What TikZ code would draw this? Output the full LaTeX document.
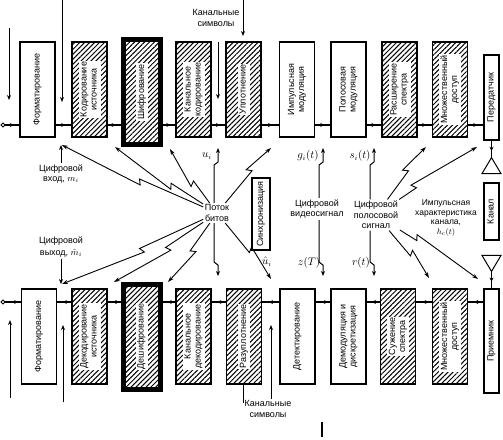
\documentclass[tikz,border=0pt]{standalone}
\usepackage{fontspec}
\setmainfont{Liberation Sans}
\usepackage{tikz}
\usetikzlibrary{calc}
\usetikzlibrary{arrows.meta}
\usetikzlibrary{patterns.meta}
\usetikzlibrary{decorations.markings}

\newcommand\vlab[1]{\rotatebox{90}{\setlength\fboxsep{1pt}\colorbox{white}{\begin{tabular}{@{}c@{}}#1\end{tabular}}}}

\begin{document}
\begin{tikzpicture}[x=1pt,y=-1pt,
  blk/.style={draw,line width=1.2pt,minimum width=35pt,minimum height=95pt,inner sep=0pt,font=\fontsize{9}{10}\selectfont},
  hblk/.style={blk,pattern={Lines[angle=45,distance=3.5pt,line width=1pt]}},
  keybox/.style={hblk,line width=5pt,minimum width=37pt,minimum height=105pt},
  lab/.style={align=center,inner sep=1.5pt,font=\fontsize{9}{10.5}\selectfont},
  sig/.style={inner sep=1pt,font=\fontsize{10.5}{12}\selectfont},
  flow/.style={line width=1.2pt,postaction={decorate},decoration={markings,mark=at position 0.6 with {\arrow{Stealth[length=4pt,width=4pt]}}}},
  arr/.style={line width=1pt,-{Stealth[length=5pt,width=4pt]}},
  zap/.style={line width=0.9pt,-{Stealth[length=6pt,width=4pt]}}]

\useasboundingbox (0,0) rectangle (503,439);

\node[blk] (fmt) at (37.5,89.5) {\vlab{Форматирование}};
\node[hblk] (src) at (89.5,89.5) {\vlab{Кодирование\\источника}};
\node[keybox] (enc) at (142,92) {\vlab{Шифрование}};
\node[hblk] (chc) at (193.5,89.5) {\vlab{Канальное\\кодирование}};
\node[hblk] (mux) at (243.5,89.5) {\vlab{Уплотнение}};
\node[blk] (pmod) at (297,89.5) {\vlab{Импульсная\\модуляция}};
\node[blk] (bmod) at (348.5,89.5) {\vlab{Полосовая\\модуляция}};
\node[hblk] (spr) at (399.5,89.5) {\vlab{Расширение\\спектра}};
\node[hblk] (ma) at (450,89.5) {\vlab{Множественный\\доступ}};
\node[blk,minimum width=15pt,minimum height=85pt] (tx) at (491.5,97.5) {\vlab{Передатчик}};

\node[blk] (fmt2) at (39,336.5) {\vlab{Форматирование}};
\node[hblk] (sdec) at (89.5,336.5) {\vlab{Декодирование\\источника}};
\node[keybox] (dec) at (141.5,336.5) {\vlab{Дешифрование}};
\node[hblk] (cdec) at (193.5,336.5) {\vlab{Канальное\\декодирование}};
\node[hblk] (dmux) at (244,336.5) {\vlab{Разуплотнение}};
\node[blk] (det) at (297.5,336.5) {\vlab{Детектирование}};
\node[blk] (dmod) at (348.5,336.5) {\vlab{Демодуляция и\\дискретизация}};
\node[hblk] (dspr) at (398,336.5) {\vlab{Сужение\\спектра}};
\node[hblk] (ma2) at (450,336.5) {\vlab{Множественный\\доступ}};
\node[blk,minimum width=15pt,minimum height=104pt] (rx) at (491.5,341) {\vlab{Приемник}};

\node[blk,minimum width=15pt,minimum height=57pt] (chan) at (491.5,211.5) {\vlab{Канал}};
\node[blk,minimum width=18pt,minimum height=72pt] (sync) at (261,214) {\vlab{Синхронизация}};

\node[lab] (chsym) at (216,18) {Канальные\\символы};
\node[lab] (chsym2) at (268,409) {Канальные\\символы};
\node[lab] (bits) at (217,213) {Поток\\битов};
\node[lab] (inp) at (61,174) {Цифровой\\вход, $m_i$};
\node[lab] (outp) at (61,247) {Цифровой\\[1pt]выход, $\hat{m}_i$};
\node[lab] (vid) at (317,209) {Цифровой\\видеосигнал};
\node[lab] (band) at (376,215) {Цифровой\\полосовой\\сигнал};
\node[lab,font=\fontsize{8.5}{9.5}\selectfont] (imp) at (446,218) {Импульсная\\характеристика\\канала,\\$h_c(t)$};
\node[sig] (uil) at (207,156) {$u_i$};
\node[sig] (uhl) at (267,262) {$\hat{u}_i$};
\node[sig] (gl) at (308,156) {$g_i(t)$};
\node[sig] (sl) at (360,156) {$s_i(t)$};
\node[sig] (zl) at (309,263) {$z(T)$};
\node[sig] (rl) at (361,263) {$r(t)$};

\coordinate (txl) at (0,125);
\coordinate (rxl) at (0,302);

\node[draw,circle,line width=0.8pt,inner sep=1.4pt] (in) at (3,125) {};
\node[draw,circle,line width=0.8pt,inner sep=1.4pt] (out) at (3,302) {};
\draw[flow] (in) -- (fmt.west |- txl);
\draw[flow] (fmt2.west |- rxl) -- (out);

\foreach \a/\b in {fmt/src,src/enc,enc/chc,chc/mux,mux/pmod,pmod/bmod,bmod/spr,spr/ma,ma/tx}
  \draw[flow] (\a.east |- txl) -- (\b.west |- txl);
\foreach \a/\b in {rx/ma2,ma2/dspr,dspr/dmod,dmod/det,det/dmux,dmux/cdec,cdec/dec,dec/sdec,sdec/fmt2}
  \draw[flow] (\a.west |- rxl) -- (\b.east |- rxl);

\draw[flow] (tx.south) -- ++(0,17) coordinate (ant1);
\draw[line width=1pt] (ant1) -- ++(-9.5,16) -- ++(19,0) -- cycle;
\draw[line width=1pt] (rx.north) ++(0,-17) coordinate (ant2) -- ++(-9.5,-16) -- ++(19,0) -- cycle;
\draw[flow] (ant2) -- (rx.north);

\coordinate (t1) at (62,145);
\coordinate (t2) at (115,147);
\coordinate (t3) at (170,149);
\coordinate (ui) at (218,148);
\coordinate (t5) at (271,148);
\coordinate (gi) at (323,148);
\coordinate (si) at (374,148);
\coordinate (t8) at (426,147);
\coordinate (t9) at (477,147);
\coordinate (b1) at (62,284);
\coordinate (b2) at (114,282);
\coordinate (b3) at (168,282);
\coordinate (uh) at (218,276);
\coordinate (b5) at (271,279);
\coordinate (zt) at (323,276);
\coordinate (rt) at (374,276);
\coordinate (b8) at (429,278);
\coordinate (b9) at (478,279);

\foreach \t/\f in {t1/0.5,t2/0.45,t3/0.5,t5/0.65,b1/0.5,b2/0.5,b3/0.55,b5/0.6}
  \draw[zap] (bits) -- ($(bits)!\f!(\t)$) -- ($(bits)!\f!(\t)!6pt!120:(\t)$) -- (\t);
\foreach \t/\f in {t8/0.65,t9/0.4,b8/0.65,b9/0.4}
  \draw[zap] (band) -- ($(band)!\f!(\t)$) -- ($(band)!\f!(\t)!6pt!120:(\t)$) -- (\t);

\foreach \n/\t in {bits/ui,vid/gi,band/si}
  \draw[arr] ($(\n.north -| \t)+(-4,0)$) -- ($(\t)+(-4,17)$) -- ($(\t)+(0,14)$) -- (\t);
\foreach \n/\t in {bits/uh,vid/zt,band/rt}
  \draw[arr] ($(\n.south -| \t)+(-4,0)$) -- ($(\t)+(-4,-14)$) -- ($(\t)+(0,-11)$) -- (\t);

\draw[arr] (inp.north) -- (inp.north |- t1);
\draw[arr] (outp.south) -- (outp.south |- b1);

\coordinate (s1) at (9,28);
\coordinate (e1) at (9,100);
\coordinate (s2) at (62,0);
\coordinate (e2) at (62,102);
\coordinate (s3) at (218,42);
\coordinate (e3) at (218,99);
\coordinate (s4) at (243,0);
\coordinate (e4) at (243,36);
\draw[arr] (s1) -- (e1);
\draw[arr] (s2) -- (e2);
\draw[arr] (s3) -- (e3);
\draw[arr] (s4) -- (e4);

\coordinate (s5) at (10,398);
\coordinate (e5) at (10,320);
\coordinate (s6) at (63,402);
\coordinate (e6) at (63,325);
\coordinate (e7) at (243,403);
\coordinate (e8) at (271,325);
\draw[arr] (s5) -- (e5);
\draw[arr] (s6) -- (e6);
\draw[line width=1pt] (dmux.south -| e7) -- (e7);
\draw[arr] (chsym2.north -| e8) -- (e8);

\coordinate (m1) at (322,422);
\draw[line width=1.8pt] (m1) -- ++(0,15);

\end{tikzpicture}
\end{document}
